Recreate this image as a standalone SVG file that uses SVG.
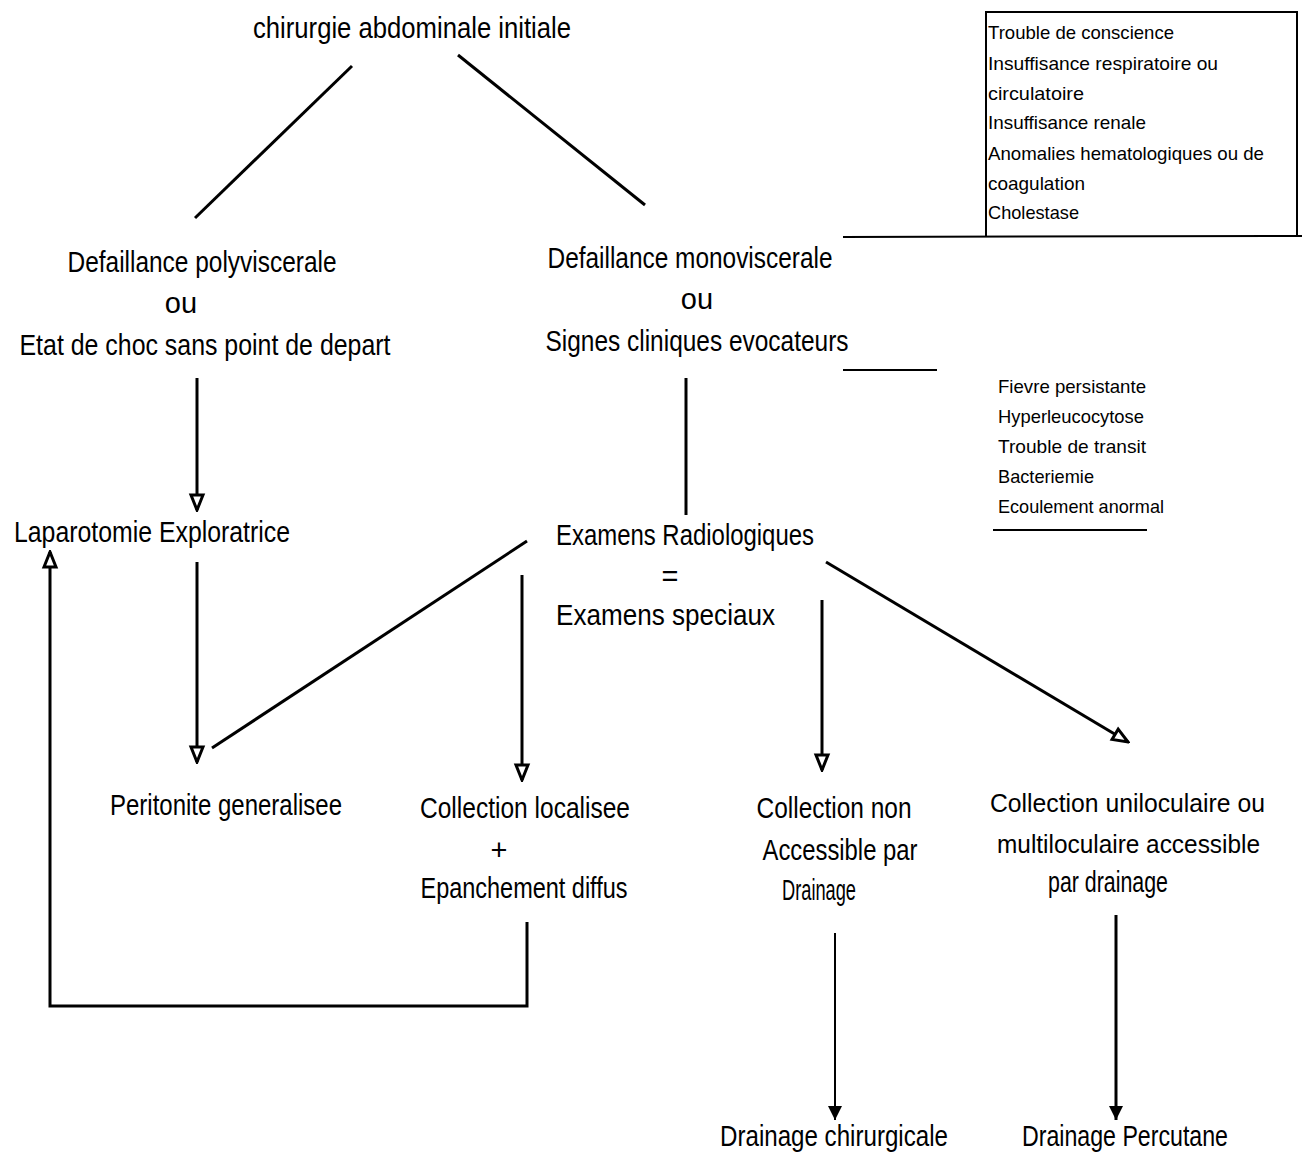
<svg xmlns="http://www.w3.org/2000/svg" width="1305" height="1152" viewBox="0 0 1305 1152">
<style>
text{font-family:"Liberation Sans Narrow","Liberation Sans","DejaVu Sans Condensed",sans-serif;fill:#000}
.m{font-size:29px}
.m2{font-size:26px}
.s{font-size:19px}
.c{stroke:#000;stroke-width:3;fill:none}
.t{stroke:#000;stroke-width:2;fill:none}
</style>
<defs>
<marker id="open" markerUnits="userSpaceOnUse" markerWidth="20" markerHeight="20" viewBox="0 0 20 20" refX="18" refY="10" orient="auto">
<path d="M3,4 L18,10 L3,16 Z" fill="#fff" stroke="#000" stroke-width="3"/>
</marker>
<marker id="solid" markerUnits="userSpaceOnUse" markerWidth="18" markerHeight="18" viewBox="0 0 18 18" refX="16" refY="9" orient="auto">
<path d="M2,2 L16,9 L2,16 Z" fill="#000"/>
</marker>
</defs>
<rect width="1305" height="1152" fill="#fff"/>
<g id="connectors">
<line class="c" x1="352" y1="66" x2="195" y2="218"/>
<line class="c" x1="458" y1="55" x2="645" y2="205"/>
<line class="c" x1="197" y1="378" x2="197" y2="510" marker-end="url(#open)"/>
<line class="c" x1="686" y1="378" x2="686" y2="515"/>
<line class="c" x1="527" y1="541" x2="212" y2="748"/>
<line class="c" x1="197" y1="562" x2="197" y2="762" marker-end="url(#open)"/>
<line class="c" x1="522" y1="575" x2="522" y2="780" marker-end="url(#open)"/>
<line class="c" x1="822" y1="600" x2="822" y2="770" marker-end="url(#open)"/>
<line class="c" x1="826" y1="562" x2="1128" y2="742" marker-end="url(#open)"/>
<polyline class="c" points="527,922 527,1006 50,1006 50,552" marker-end="url(#open)"/>
<line class="t" x1="835" y1="933" x2="835" y2="1120" marker-end="url(#solid)"/>
<line class="c" x1="1116" y1="915" x2="1116" y2="1120" marker-end="url(#solid)"/>
</g>
<g id="n-chirurgie"><text class="m" x="412" y="38" text-anchor="middle" textLength="318" lengthAdjust="spacingAndGlyphs">chirurgie abdominale initiale</text></g>
<g id="n-poly">
<text class="m" x="202" y="272" text-anchor="middle" textLength="269" lengthAdjust="spacingAndGlyphs">Defaillance polyviscerale</text>
<text class="m" x="181" y="313" text-anchor="middle">ou</text>
<text class="m" x="205" y="355" text-anchor="middle" textLength="371" lengthAdjust="spacingAndGlyphs">Etat de choc sans point de depart</text>
</g>
<g id="n-mono">
<text class="m" x="690" y="268" text-anchor="middle" textLength="285" lengthAdjust="spacingAndGlyphs">Defaillance monoviscerale</text>
<text class="m" x="697" y="309" text-anchor="middle">ou</text>
<text class="m" x="697" y="351" text-anchor="middle" textLength="303" lengthAdjust="spacingAndGlyphs">Signes cliniques evocateurs</text>
</g>
<g id="n-box1">
<polyline class="t" points="986,236 986,12 1297,12 1297,236"/>
<line class="t" x1="843" y1="237" x2="1302" y2="236"/>
<text class="s" x="988" y="39" textLength="186" lengthAdjust="spacingAndGlyphs">Trouble de conscience</text>
<text class="s" x="988" y="70" textLength="230" lengthAdjust="spacingAndGlyphs">Insuffisance respiratoire ou</text>
<text class="s" x="988" y="100" textLength="96" lengthAdjust="spacingAndGlyphs">circulatoire</text>
<text class="s" x="988" y="129" textLength="158" lengthAdjust="spacingAndGlyphs">Insuffisance renale</text>
<text class="s" x="988" y="160" textLength="276" lengthAdjust="spacingAndGlyphs">Anomalies hematologiques ou de</text>
<text class="s" x="988" y="190" textLength="97" lengthAdjust="spacingAndGlyphs">coagulation</text>
<text class="s" x="988" y="219" textLength="91" lengthAdjust="spacingAndGlyphs">Cholestase</text>
</g>
<g id="n-box2">
<line class="t" x1="843" y1="370" x2="937" y2="370"/>
<text class="s" x="998" y="393" textLength="148" lengthAdjust="spacingAndGlyphs">Fievre persistante</text>
<text class="s" x="998" y="423" textLength="146" lengthAdjust="spacingAndGlyphs">Hyperleucocytose</text>
<text class="s" x="998" y="453" textLength="148" lengthAdjust="spacingAndGlyphs">Trouble de transit</text>
<text class="s" x="998" y="483" textLength="96" lengthAdjust="spacingAndGlyphs">Bacteriemie</text>
<text class="s" x="998" y="513" textLength="166" lengthAdjust="spacingAndGlyphs">Ecoulement anormal</text>
<line class="t" x1="993" y1="530" x2="1147" y2="530"/>
</g>
<g id="n-laparotomie"><text class="m" x="14" y="542" textLength="276" lengthAdjust="spacingAndGlyphs">Laparotomie Exploratrice</text></g>
<g id="n-examens">
<text class="m" x="556" y="545" textLength="258" lengthAdjust="spacingAndGlyphs">Examens Radiologiques</text>
<text class="m" x="670" y="586" text-anchor="middle">=</text>
<text class="m" x="556" y="625" textLength="219" lengthAdjust="spacingAndGlyphs">Examens speciaux</text>
</g>
<g id="n-peritonite"><text class="m" x="110" y="815" textLength="232" lengthAdjust="spacingAndGlyphs">Peritonite generalisee</text></g>
<g id="n-localisee">
<text class="m" x="525" y="818" text-anchor="middle" textLength="210" lengthAdjust="spacingAndGlyphs">Collection localisee</text>
<text class="m" x="499" y="860" text-anchor="middle">+</text>
<text class="m" x="524" y="898" text-anchor="middle" textLength="207" lengthAdjust="spacingAndGlyphs">Epanchement diffus</text>
</g>
<g id="n-nonaccessible">
<text class="m" x="834" y="818" text-anchor="middle" textLength="155" lengthAdjust="spacingAndGlyphs">Collection non</text>
<text class="m" x="840" y="860" text-anchor="middle" textLength="155" lengthAdjust="spacingAndGlyphs">Accessible par</text>
<text class="m" x="819" y="900" text-anchor="middle" textLength="74" lengthAdjust="spacingAndGlyphs">Drainage</text>
</g>
<g id="n-accessible">
<text class="m2" x="990" y="812" textLength="275" lengthAdjust="spacingAndGlyphs">Collection uniloculaire ou</text>
<text class="m2" x="997" y="853" textLength="263" lengthAdjust="spacingAndGlyphs">multiloculaire accessible</text>
<text class="m" x="1108" y="892" text-anchor="middle" textLength="120" lengthAdjust="spacingAndGlyphs">par drainage</text>
</g>
<g id="n-chirurgicale"><text class="m" x="834" y="1146" text-anchor="middle" textLength="228" lengthAdjust="spacingAndGlyphs">Drainage chirurgicale</text></g>
<g id="n-percutane"><text class="m" x="1125" y="1146" text-anchor="middle" textLength="206" lengthAdjust="spacingAndGlyphs">Drainage Percutane</text></g>
</svg>
